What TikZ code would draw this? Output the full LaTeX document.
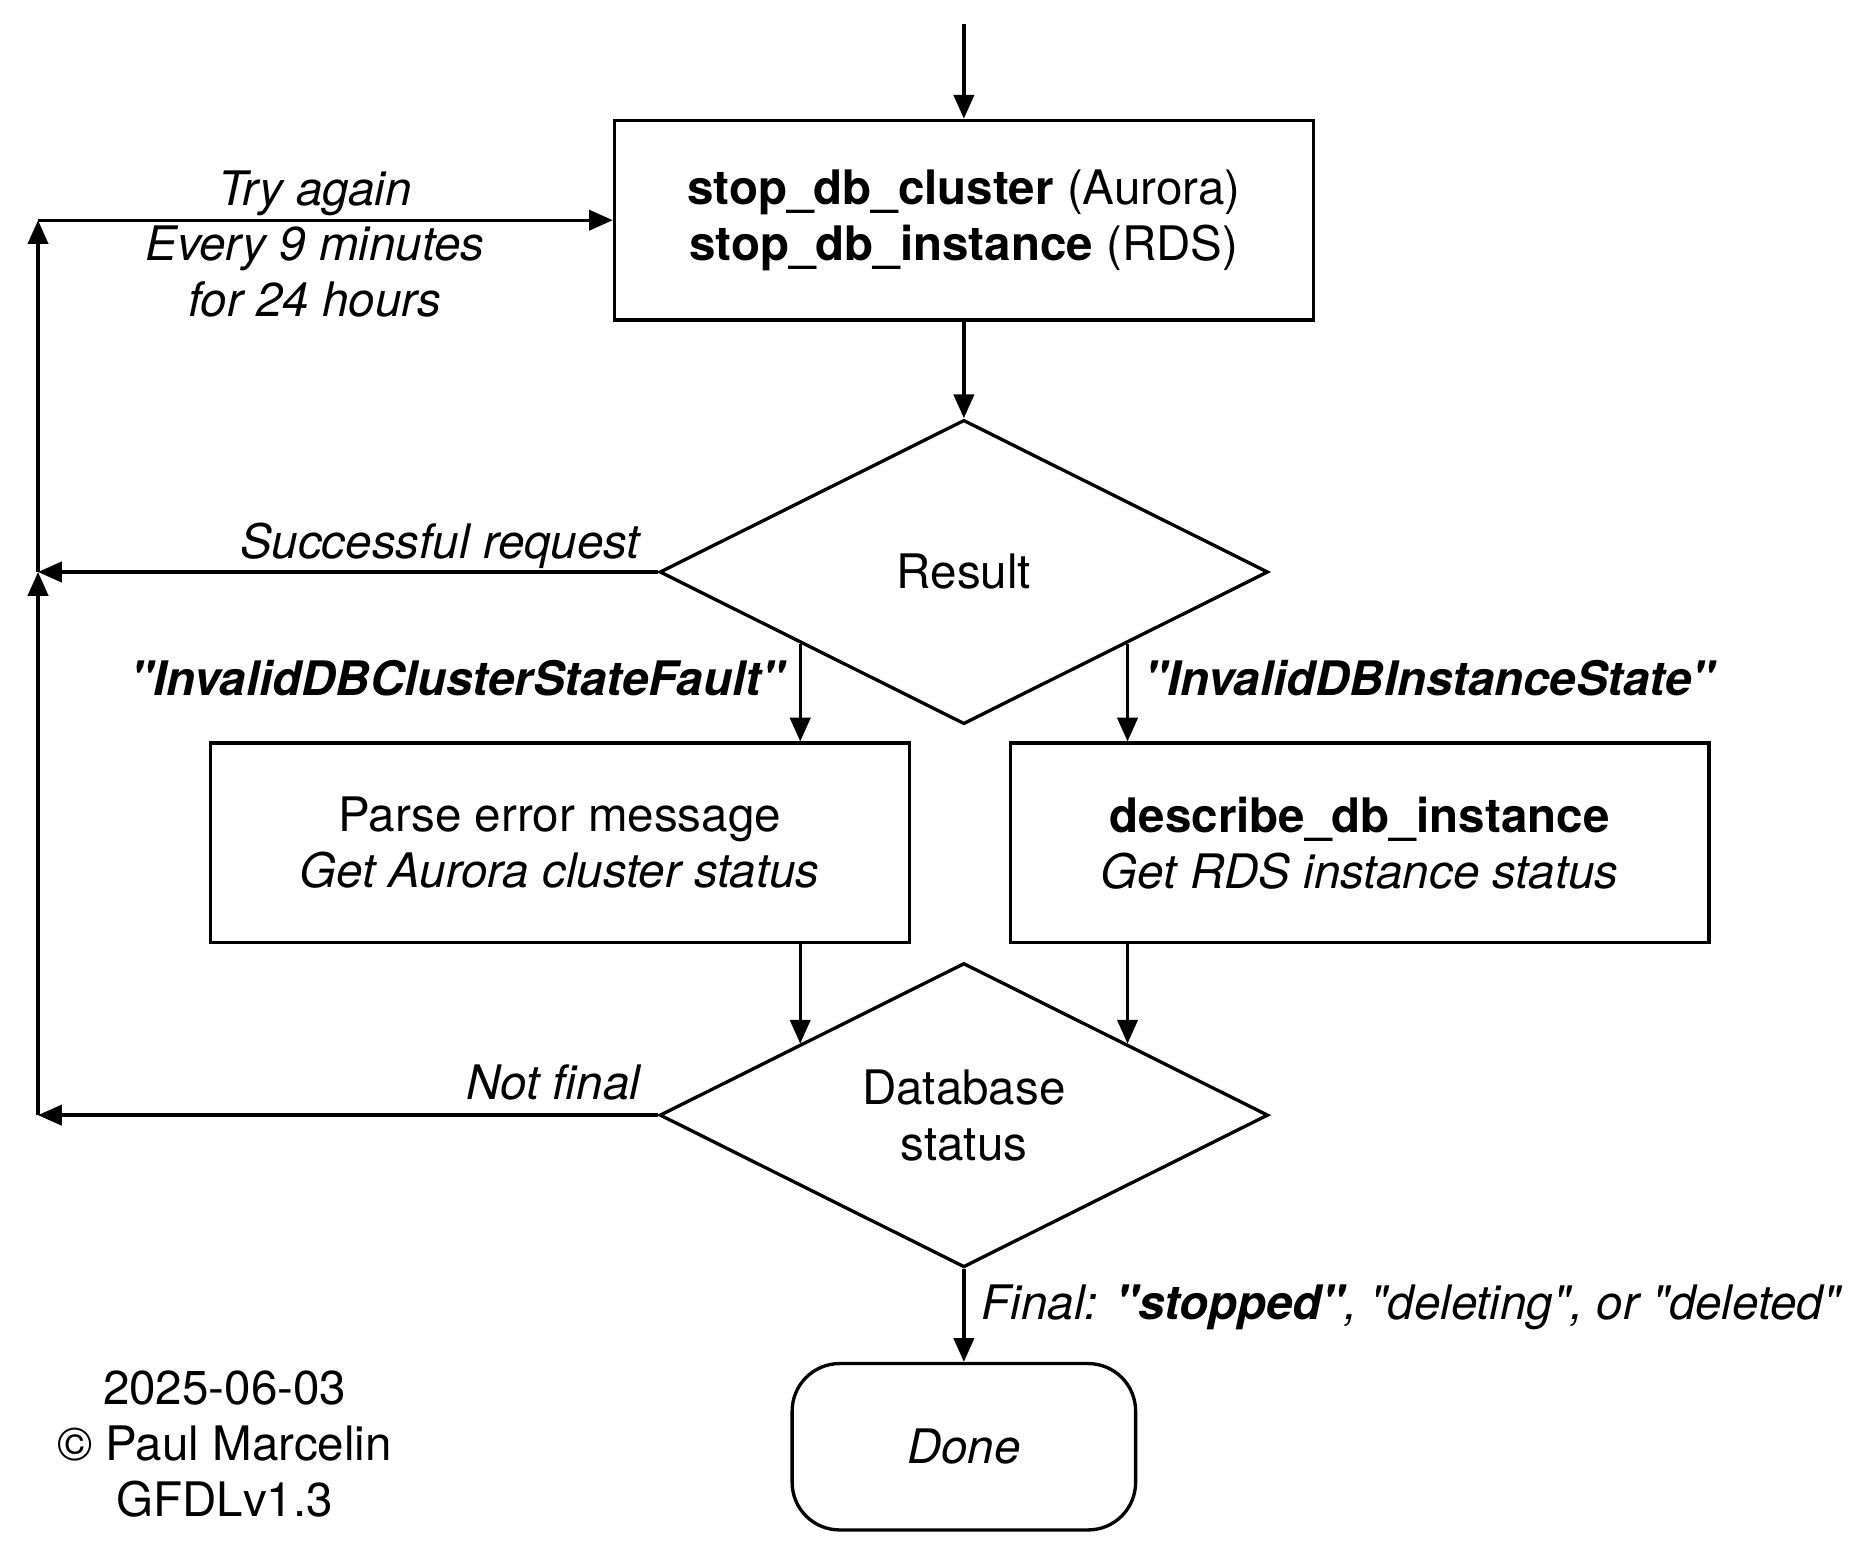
\documentclass[tikz,border=0pt]{standalone}
\usepackage{fontspec}
\setmainfont{TeX Gyre Heros}
\usetikzlibrary{arrows.meta,shapes.geometric,calc}
\newcommand{\qtd}[1]{\textquotedbl#1\textquotedbl}

\begin{document}
\begin{tikzpicture}[x=1pt,y=1pt,
  every node/.style={font=\fontsize{40}{47}\selectfont},
  box/.style={draw=drawColor,line width=2.8pt,minimum width=588pt,minimum height=168pt,inner sep=0pt,align=center},
  decision/.style={diamond,draw=drawColor,line width=2.8pt,minimum width=512pt,minimum height=256pt,inner sep=0pt,shape aspect=2,align=center},
  terminal/.style={draw=drawColor,line width=2.8pt,rounded corners=40pt,minimum width=289pt,minimum height=140pt,inner sep=0pt},
  lbl/.style={text=drawColor,inner sep=0pt,outer sep=0pt,align=center},
  arr/.style={draw=drawColor,line width=2.8pt,line join=miter,-{Triangle[length=20pt,width=17pt]}}]
\definecolor{fillColor}{RGB}{255,255,255}
\definecolor{drawColor}{RGB}{0,0,0}
\path[use as bounding box,fill=fillColor] (0,-4) rectangle (1565,1298.3);

\node[box] (stop) at (811,1113) {\textbf{stop\_db\_cluster} (Aurora)\\\textbf{stop\_db\_instance} (RDS)};
\node[decision] (res) at (811,817) {Result};
\node[box] (parse) at (471,589) {Parse error message\\\textit{Get Aurora cluster status}};
\node[box] (desc) at (1144,589) {\textbf{describe\_db\_instance}\\\textit{Get RDS instance status}};
\node[decision] (db) at (811,360) {Database\\status};
\node[terminal] (done) at (811,81) {\textit{Done}};

\coordinate (entry) at (811,1278);
\coordinate (c2) at (32,1113);
\coordinate (c1) at (32,817);
\coordinate (c3) at (32,360);
\coordinate (rl) at ($(res.south)!0.535!(res.west)$);
\coordinate (rr) at ($(res.south)!0.535!(res.east)$);
\coordinate (dl) at ($(db.north)!0.535!(db.west)$);
\coordinate (dr) at ($(db.north)!0.535!(db.east)$);

\draw[arr] (entry) -- (stop.north);
\draw[arr] (stop.south) -- (res.north);
\draw[arr] (res.west) -- (c1);
\draw[arr] (rl) -- (rl |- parse.north);
\draw[arr] (rr) -- (rr |- desc.north);
\draw[arr] (dl |- parse.south) -- (dl);
\draw[arr] (dr |- desc.south) -- (dr);
\draw[arr] (db.west) -- (c3);
\draw[arr] (c3) -- (c1);
\draw[arr] (c1) -- (c2);
\draw[arr] (c2) -- (stop.west);
\draw[arr] (db.south) -- (done.north);

\node[lbl] (again) at (265,1093) {\textit{Try again}\\\textit{Every 9 minutes}\\\textit{for 24 hours}};
\node[lbl,anchor=base east] (ok) at (540,828) {\textit{Successful request}};
\node[lbl,anchor=base east] (cfault) at (662,713) {\textbf{\textit{\qtd{InvalidDBClusterStateFault}}}};
\node[lbl,anchor=base west] (ifault) at (963,713) {\textbf{\textit{\qtd{InvalidDBInstanceState}}}};
\node[lbl,anchor=base east] (notfinal) at (540,373) {\textit{Not final}};
\node[lbl,anchor=base west] (final) at (826,188) {\textit{Final: \textbf{\qtd{stopped}}, \qtd{deleting}, or \qtd{deleted}}};
\node[lbl] (credit) at (189,83) {2025-06-03\\© Paul Marcelin\\GFDLv1.3};
\end{tikzpicture}
\end{document}
